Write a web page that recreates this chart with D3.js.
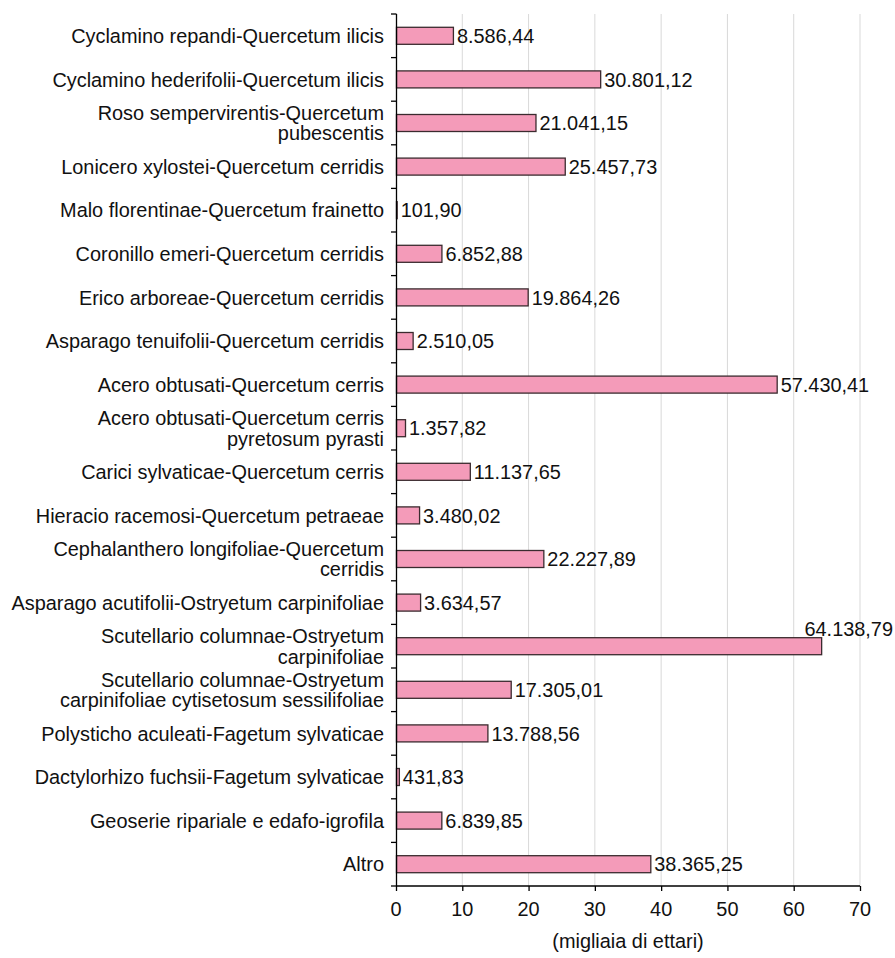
<!DOCTYPE html>
<html>
<head>
<meta charset="utf-8">
<script src="https://cdn.jsdelivr.net/npm/d3@7"></script>
<style>
	body { margin: 0; background: #fff; }
	svg text { font-family: "Liberation Sans", Arial, sans-serif; fill: #111; }
</style>
</head>
<body>
<div class="chart"></div>
<script>
'use strict';

// Categories, top to bottom (line breaks as in the original labels).
var categories = [
	'Cyclamino repandi-Quercetum ilicis',
	'Cyclamino hederifolii-Quercetum ilicis',
	'Roso sempervirentis-Quercetum\npubescentis',
	'Lonicero xylostei-Quercetum cerridis',
	'Malo florentinae-Quercetum frainetto',
	'Coronillo emeri-Quercetum cerridis',
	'Erico arboreae-Quercetum cerridis',
	'Asparago tenuifolii-Quercetum cerridis',
	'Acero obtusati-Quercetum cerris',
	'Acero obtusati-Quercetum cerris\npyretosum pyrasti',
	'Carici sylvaticae-Quercetum cerris',
	'Hieracio racemosi-Quercetum petraeae',
	'Cephalanthero longifoliae-Quercetum\ncerridis',
	'Asparago acutifolii-Ostryetum carpinifoliae',
	'Scutellario columnae-Ostryetum\ncarpinifoliae',
	'Scutellario columnae-Ostryetum\ncarpinifoliae cytisetosum sessilifoliae',
	'Polysticho aculeati-Fagetum sylvaticae',
	'Dactylorhizo fuchsii-Fagetum sylvaticae',
	'Geoserie ripariale e edafo-igrofila',
	'Altro'
];

// Surface in hectares.
var hectares = [
	8586.44, 30801.12, 21041.15, 25457.73, 101.90,
	6852.88, 19864.26, 2510.05, 57430.41, 1357.82,
	11137.65, 3480.02, 22227.89, 3634.57, 64138.79,
	17305.01, 13788.56, 431.83, 6839.85, 38365.25
];

var xTicks = [0, 10, 20, 30, 40, 50, 60, 70];
var axisTitle = '(migliaia di ettari)';

var data = categories.map(function(c, i) {
	return {name: c, value: hectares[i]};
});

// Italian number format: 8.586,44
var itFormat = d3.formatLocale({
	decimal: ',', thousands: '.', grouping: [3], currency: ['€', '']
}).format(',.2f');

var svgWidth = 895;
var svgHeight = 958;
var margin = {top: 14, right: 35, bottom: 72, left: 396};
var width = svgWidth - margin.left - margin.right;
var height = svgHeight - margin.top - margin.bottom;
var fontSize = 19.9;

var svg = d3.select('.chart').append('svg')
	.attr('width', svgWidth)
	.attr('height', svgHeight);

var g = svg.append('g')
	.attr('transform', `translate(${margin.left}, ${margin.top})`);

var x = d3.scaleLinear()
	.domain([0, 70])
	.range([0, width]);

var y = d3.scaleBand()
	.domain(categories)
	.range([0, height])
	.paddingInner(0.61)
	.paddingOuter(0.305);

var step = y.step();

// Gridlines
g.append('g')
	.attr('class', 'grid')
	.selectAll('line')
	.data(xTicks.slice(1))
	.join('line')
	.attr('x1', d => x(d))
	.attr('x2', d => x(d))
	.attr('y1', 0)
	.attr('y2', height)
	.attr('stroke', '#d9d9d9')
	.attr('stroke-width', 1);

// Bars
g.append('g')
	.attr('class', 'bars')
	.selectAll('rect')
	.data(data)
	.join('rect')
	.attr('x', x(0) + 0.5)
	.attr('y', d => y(d.name))
	.attr('width', d => Math.max(0, x(d.value / 1000) - x(0)))
	.attr('height', y.bandwidth())
	.attr('fill', '#f49bb9')
	.attr('stroke', '#3b2b2f')
	.attr('stroke-width', 1.3);

// Value labels
g.append('g')
	.attr('class', 'values')
	.selectAll('text')
	.data(data)
	.join('text')
	.each(function(d) {
		var end = x(d.value / 1000);
		var t = d3.select(this)
			.attr('font-size', fontSize)
			.text(itFormat(d.value));
		var w = this.getComputedTextLength();
		if (end + 4 + w > svgWidth - margin.left) {
			// Not enough room: put it above the bar end.
			t.attr('x', svgWidth - margin.left - 2)
				.attr('y', y(d.name) - 2)
				.attr('text-anchor', 'end');
		} else {
			t.attr('x', end + 4)
				.attr('y', y(d.name) + y.bandwidth() / 2)
				.attr('dy', '0.36em');
		}
	});

// Y axis
var yAxis = g.append('g').attr('class', 'y axis');
yAxis.append('line')
	.attr('x1', 0.5).attr('x2', 0.5)
	.attr('y1', 0).attr('y2', height)
	.attr('stroke', '#000')
	.attr('stroke-width', 1.3);
yAxis.selectAll('line.tick')
	.data(d3.range(categories.length + 1))
	.join('line')
	.attr('class', 'tick')
	.attr('x1', -5).attr('x2', 0.5)
	.attr('y1', i => i * step)
	.attr('y2', i => i * step)
	.attr('stroke', '#000')
	.attr('stroke-width', 1.3);

// Category labels
yAxis.selectAll('text')
	.data(data)
	.join('text')
	.attr('text-anchor', 'end')
	.attr('font-size', fontSize)
	.each(function(d) {
		var lines = d.name.split('\n');
		var lh = 20.5;
		var cy = y(d.name) + y.bandwidth() / 2;
		var t = d3.select(this);
		lines.forEach(function(line, i) {
			t.append('tspan')
				.attr('x', -12)
				.attr('y', cy + (i - (lines.length - 1) / 2) * lh)
				.attr('dy', '0.36em')
				.text(line);
		});
	});

// X axis
var xAxis = g.append('g')
	.attr('class', 'x axis')
	.attr('transform', `translate(0, ${height})`);
xAxis.append('line')
	.attr('x1', 0).attr('x2', x(70))
	.attr('stroke', '#000')
	.attr('stroke-width', 1.3);
xAxis.selectAll('line.tick')
	.data(xTicks)
	.join('line')
	.attr('class', 'tick')
	.attr('x1', d => x(d) + 0.5)
	.attr('x2', d => x(d) + 0.5)
	.attr('y1', 0).attr('y2', 5)
	.attr('stroke', '#000')
	.attr('stroke-width', 1.3);
xAxis.selectAll('text')
	.data(xTicks)
	.join('text')
	.attr('x', d => x(d))
	.attr('y', 30)
	.attr('text-anchor', 'middle')
	.attr('font-size', fontSize)
	.text(d => d);

// Axis title
g.append('text')
	.attr('x', width / 2)
	.attr('y', height + 62)
	.attr('text-anchor', 'middle')
	.attr('font-size', fontSize)
	.text(axisTitle);
</script>
</body>
</html>
